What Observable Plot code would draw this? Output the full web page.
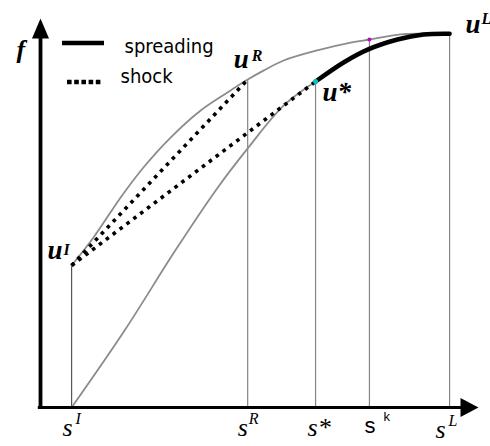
<!DOCTYPE html>
<html><head><meta charset="utf-8">
<script src="https://cdn.jsdelivr.net/npm/d3@7"></script>
<script src="https://cdn.jsdelivr.net/npm/@observablehq/plot@0.6"></script>
<style>body{margin:0;background:#fff} #chart svg{display:block;overflow:visible}</style>
</head><body><div id="chart"></div>
<script>
// ---- data ----
const sNames = ["I","R","*","k","L"];
const sValues = [0.071,0.473,0.628,0.751,0.934];
const fValues = [0.365,0.843,0.838,0.946,0.961];
const upperS = [0.071,0.121,0.183,0.235,0.297,0.365,0.427,0.473,0.509,0.555,0.632,0.708,0.751,0.822,0.874,0.934];
const upperF = [0.365,0.437,0.540,0.617,0.694,0.763,0.810,0.843,0.866,0.892,0.918,0.938,0.946,0.959,0.961,0.961];
const lowerS = [0.071,0.192,0.308,0.400,0.473,0.555,0.628];
const lowerF = [0,0.198,0.404,0.558,0.666,0.776,0.838];
const spreadS = [0.628,0.692,0.747,0.815,0.874,0.934];
const spreadF = [0.838,0.887,0.920,0.946,0.959,0.961];
const shockStart = "I";
const shockEnds = ["R","*"];
const legendLabels = ["spreading","shock"];
const axisLabel = "f";

// ---- tables ----
const pts = sNames.map((n,i)=>({name:n, s:sValues[i], f:fValues[i]}));
const P = Object.fromEntries(pts.map(d=>[d.name,d]));
const upper = upperS.map((s,i)=>({s, f:upperF[i]}));
const lower = lowerS.map((s,i)=>({s, f:lowerF[i]}));
const spread = spreadS.map((s,i)=>({s, f:spreadF[i]}));
const shocks = shockEnds.map(e=>({a:P[shockStart], b:P[e]}));

const serif = "Liberation Serif";
const sans = "Liberation Sans";
const legendFont = "DejaVu Sans Condensed, DejaVu Sans, sans-serif";

const upArrow = {draw(c){ c.moveTo(0,0); c.lineTo(8.5,20); c.lineTo(-8.5,20); c.closePath(); }};
const rightArrow = {draw(c){ c.moveTo(0,0); c.lineTo(-18,9.5); c.lineTo(-18,-9.5); c.closePath(); }};

function lab(name, txt, dx, dy, o={}) {
  return Plot.text([P[name]], {x:"s", y:"f", text:()=>txt, textAnchor:"start", lineAnchor:"bottom",
    dx, dy, fontFamily:serif, fontStyle:"italic", fontWeight:"bold", fontSize:27, fill:"black", ...o});
}
function slab(name, txt, dx, dy, o={}) {
  return Plot.text([P[name]], {x:"s", y:()=>0, text:()=>txt, textAnchor:"start", lineAnchor:"bottom",
    dx, dy, fontFamily:serif, fontStyle:"italic", fontWeight:"normal", fontSize:26, fill:"black", ...o});
}
const sup = {fontSize:16};

const plot = Plot.plot({
  width:490, height:446,
  marginLeft:40, marginRight:12, marginTop:18, marginBottom:39,
  x:{domain:[0,1], axis:null},
  y:{domain:[0,1], axis:null},
  marks:[
    Plot.ruleX(pts, {x:"s", y1:0, y2:"f", stroke:d=>d.name==="I"?"#555":"#858585", strokeWidth:1.2}),
    Plot.line(upper, {x:"s", y:"f", stroke:"#8c8c8c", strokeWidth:1.8, curve:"catmull-rom"}),
    Plot.line(lower, {x:"s", y:"f", stroke:"#8c8c8c", strokeWidth:1.8, curve:"catmull-rom"}),
    Plot.link(shocks, {x1:d=>d.a.s, y1:d=>d.a.f, x2:d=>d.b.s, y2:d=>d.b.f,
      stroke:"black", strokeWidth:3.6, strokeDasharray:"3.6,5", strokeLinecap:"butt"}),
    Plot.line(spread, {x:"s", y:"f", stroke:"black", strokeWidth:4.5, strokeLinecap:"round", curve:"catmull-rom"}),
    Plot.dot([P["*"]], {x:"s", y:"f", r:2.5, fill:"#00c8c8"}),
    Plot.dot([P["k"]], {x:"s", y:"f", r:2, fill:"#c800c8"}),
    // axes
    Plot.ruleX([0], {y1:0, y2:0.955, stroke:"black", strokeWidth:3.8}),
    Plot.ruleY([0], {x1:-0.005, x2:0.965, stroke:"black", strokeWidth:3.2}),
    Plot.dot([0], {x:()=>0, y:()=>1, symbol:upArrow, r:5, fill:"black", stroke:null}),
    Plot.dot([0], {x:()=>1, y:()=>0, symbol:rightArrow, r:5, fill:"black", stroke:null}),
    Plot.text([axisLabel], {frameAnchor:"top-left", text:d=>d, textAnchor:"start", lineAnchor:"bottom",
      dx:-24, dy:39, fontFamily:serif, fontStyle:"italic", fontWeight:"bold", fontSize:26}),
    // point labels
    lab("I","u",-24,-7), lab("I","I",-8,-11,sup),
    lab("R","u",-14,-12), lab("R","R",4,-19,sup),
    lab("*","u*",7,19),
    lab("L","u",16,-1), lab("L","L",32,-10,sup),
    // axis labels
    slab("I","s",-9,28), slab("I","I",4,16,sup),
    slab("R","s",-10,28), slab("R","R",1,16,sup),
    slab("*","s*",-8,28),
    slab("k","s",-5,25,{fontFamily:sans, fontStyle:"normal", fontSize:22}), slab("k","k",14,13,{fontFamily:sans, fontStyle:"normal", fontSize:13}),
    slab("L","s",-14,30), slab("L","L",-1,18,sup),
    // legend text
    Plot.text([legendLabels[0]], {frameAnchor:"top-left", text:d=>d, textAnchor:"start", lineAnchor:"bottom",
      dx:84, dy:34, fontFamily:legendFont, fontSize:20}),
    Plot.text([legendLabels[1]], {frameAnchor:"top-left", text:d=>d, textAnchor:"start", lineAnchor:"bottom",
      dx:80, dy:64, fontFamily:legendFont, fontSize:20})
  ]
});
// legend swatches
const svg = d3.select(plot);
const g = svg.append("g");
g.append("line").attr("x1",62).attr("x2",104).attr("y1",43).attr("y2",43)
  .attr("stroke","black").attr("stroke-width",4.5);
g.append("line").attr("x1",67).attr("x2",101).attr("y1",82).attr("y2",82)
  .attr("stroke","black").attr("stroke-width",4.5).attr("stroke-dasharray","4.6,2.6");
document.getElementById("chart").appendChild(plot);
</script>
</body></html>
